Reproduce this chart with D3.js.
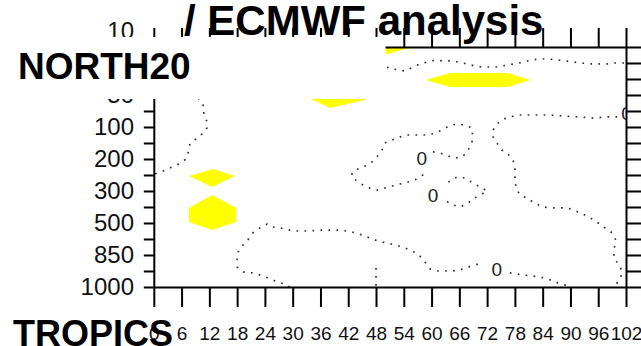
<!DOCTYPE html>
<html>
<head>
<meta charset="utf-8">
<script src="https://cdn.jsdelivr.net/npm/d3@7/dist/d3.min.js"></script>
<style>
  html, body { margin: 0; padding: 0; background: #fff; }
  svg { display: block; font-family: "Liberation Sans", Arial, sans-serif; }
</style>
</head>
<body>
<svg id="chart" width="641" height="346"></svg>
<script>
// ---------------- data ----------------
// x axis: forecast hour, y axis: model level index (0 = 1000 hPa)
const xTicks = [0, 6, 12, 18, 24, 30, 36, 42, 48, 54, 60, 66, 72, 78, 84, 90, 96, 102];
const yTickIdx = d3.range(0, 16);
const yLabelIdx = [0, 2, 4, 6, 8, 10, 12, 14, 16];
const yLabels = ["1000", "850", "500", "300", "200", "100", "50", "20", "10"];

// yellow shaded regions [hour, level index]
const shadeTop = [[48, 15], [55.8, 15], [50.6, 14.56], [49, 14.6]];
const shadeUpperRight = [[58.8, 12.94], [64.0, 13.38], [76.5, 13.38], [81.3, 12.94], [76.5, 12.5], [64.0, 12.5]];
const shadeUpperMid = [[32.7, 11.9], [46.7, 11.9], [45.6, 11.69], [38.1, 11.19], [34.4, 11.69]];
const shadeDiamond = [[7.6, 6.94], [12.8, 7.38], [17.5, 6.94], [12.6, 6.25]];
const shadeHexagon = [[12.6, 5.75], [7.6, 4.94], [7.6, 4.06], [12.6, 3.56], [17.8, 4.06], [17.8, 4.94]];

// zero contour (dotted) [hour, level index]
const zeroLeft = [[9.1, 12.3], [9.8, 11.69], [10.8, 11.31], [10.8, 10.88], [11.5, 10.31], [11.5, 9.94], [10.4, 9.56],
  [9.1, 9.25], [7.8, 8.94], [7.4, 8.38], [6.7, 7.94], [5.4, 7.69], [3.9, 7.5], [2.0, 7.25], [0.7, 7.13], [0, 7.0]];
const zeroTop = [[47, 13.5], [51.0, 13.75], [52.5, 13.56], [54.3, 13.5], [56.0, 13.75], [57.5, 13.94], [59.0, 14.06],
  [60.8, 14.19], [62.3, 14.13], [64.0, 14.13], [65.7, 14.06], [67.7, 13.94], [69.4, 13.81], [71.1, 13.75], [72.6, 13.75],
  [74.3, 13.75], [76.3, 13.88], [78.0, 13.94], [79.8, 14.06], [81.7, 14.19], [83.4, 14.25], [85.2, 14.25], [87.1, 14.19],
  [88.8, 14.13], [90.6, 14.06], [92.5, 14.0], [94.2, 13.94], [96.0, 13.94], [97.9, 13.94], [99.6, 14.0], [102, 14.0]];
const zeroRight = [[100.1, 10.63], [98.1, 10.63], [94.9, 10.56], [91.6, 10.63], [88.4, 10.69], [85.6, 10.75], [81.7, 10.75],
  [78.7, 10.75], [76.9, 10.63], [75.6, 10.5], [74.1, 10.19], [73.3, 9.81], [73.3, 9.38], [74.1, 9.0], [75.2, 8.56],
  [76.5, 8.31], [77.6, 7.94], [78.0, 7.5], [78.0, 7.0], [78.0, 6.56], [78.5, 6.06], [79.1, 5.75], [80.6, 5.56], [81.9, 5.31],
  [83.9, 5.0], [86.7, 4.94], [88.4, 4.94], [90.3, 4.88], [91.6, 4.69], [93.1, 4.5], [94.7, 4.25], [96.0, 4.0], [97.5, 3.69],
  [99.0, 3.38], [99.8, 2.94], [99.4, 2.31], [99.4, 1.81], [100.7, 1.31], [101.2, 0.88], [100.5, 0.38], [99.2, 0]];
const zeroMid = [[60.3, 8.44], [61.8, 8.38], [63.6, 8.19], [65.1, 8.06], [66.6, 8.13], [67.7, 8.44], [68.7, 9.0], [68.9, 9.38],
  [68.7, 9.94], [67.7, 10.06], [65.9, 10.19], [64.4, 10.13], [62.9, 9.94], [61.4, 9.69], [60.1, 9.56], [58.6, 9.5],
  [56.9, 9.5], [54.9, 9.5], [53.2, 9.38], [51.5, 9.19], [49.9, 9.0], [49.3, 8.56], [48.2, 8.13], [47.1, 7.81], [45.6, 7.56],
  [44.1, 7.38], [42.8, 7.13], [42.8, 6.88], [44.1, 6.56], [45.6, 6.31], [47.1, 6.13], [48.4, 6.06], [49.9, 6.19],
  [51.5, 6.31], [53.2, 6.44], [54.9, 6.56], [56.4, 6.69], [58.1, 7.0], [59.0, 7.31]];
const zeroSmall = [[63.6, 6.56], [65.5, 6.88], [67.2, 6.81], [68.9, 6.5], [70.5, 6.25], [72.0, 6.0], [70.5, 5.75],
  [68.9, 5.5], [67.7, 5.19], [66.1, 5.0], [64.6, 5.13], [63.1, 5.38]];
const zeroBottomA = [[29.4, 0], [28.3, 0.19], [26.8, 0.31], [25.1, 0.5], [23.6, 0.69], [21.4, 0.88], [19.3, 0.94],
  [18.0, 1.25], [18.0, 1.69], [18.2, 2.19], [19.3, 2.63], [20.3, 2.94], [21.4, 3.38], [22.9, 3.69], [24.5, 3.94],
  [25.7, 3.75], [27.3, 3.69], [30.1, 3.5], [33.1, 3.5], [36.5, 3.56], [40.2, 3.56], [42.8, 3.44], [45.0, 3.25],
  [46.7, 3.06], [48.4, 2.88], [50.4, 2.75], [52.1, 2.63], [53.8, 2.5], [55.8, 2.25], [57.1, 2.06], [58.6, 1.56],
  [59.7, 1.13], [61.4, 1.0], [64.4, 1.0], [66.1, 1.06], [67.9, 1.25], [69.4, 1.38], [70.9, 1.5]];
const zeroBottomB = [[76.9, 0.88], [78.5, 0.81], [79.8, 0.75], [81.7, 0.69], [83.4, 0.63], [85.2, 0.5], [86.7, 0.31],
  [88.2, 0.19], [89.9, 0]];
const zeroStub = [[48.0, 1.19], [48.0, 0]];

// contour labels [hour, level index, text]
const contourLabels = [[57.9, 8.06, "0"], [60.3, 5.75, "0"], [74.1, 1.13, "0"], [102.1, 10.88, "0"]];

const titleText = "/ ECMWF analysis";
const panelTop = "NORTH20";
const panelBottom = "TROPICS";

// ---------------- drawing ----------------
const svg = d3.select("#chart");
const x = d3.scaleLinear().domain([0, 102]).range([153.8, 626]);
const y = d3.scaleLinear().domain([0, 15]).range([287, 47]);

svg.append("defs").append("clipPath").attr("id", "plotclip")
  .append("rect").attr("x", x(0)).attr("y", y(15)).attr("width", x(102) - x(0)).attr("height", y(0) - y(15));

const plot = svg.append("g").attr("clip-path", "url(#plotclip)");
const line = d3.line().x(d => x(d[0])).y(d => y(d[1]));

[shadeTop, shadeUpperRight, shadeUpperMid, shadeDiamond, shadeHexagon].forEach(poly => {
  plot.append("path").attr("d", line(poly) + "Z").attr("fill", "#ffff00").attr("stroke", "none");
});

[zeroLeft, zeroTop, zeroRight, zeroMid, zeroSmall, zeroBottomA, zeroBottomB, zeroStub].forEach(c => {
  plot.append("path").attr("d", line(c)).attr("fill", "none")
    .attr("stroke", "#333").attr("stroke-width", 1.7).attr("stroke-dasharray", "1.7,6.3");
});

plot.selectAll("text.clab").data(contourLabels).join("text")
  .attr("class", "clab")
  .attr("x", d => x(d[0])).attr("y", d => y(d[1])).attr("dy", "0.35em")
  .attr("text-anchor", "middle").attr("font-size", 19).attr("fill", "#222")
  .text(d => d[2]);

// axes
function styleAxis(g) {
  g.selectAll("path.domain").attr("stroke", "#000").attr("stroke-width", 2);
  g.selectAll(".tick line").attr("stroke", "#000").attr("stroke-width", 2);
}
svg.append("g").attr("transform", `translate(0,${y(0)})`)
  .call(d3.axisBottom(x).tickValues(xTicks).tickSize(20).tickSizeOuter(0).tickPadding(20).tickFormat(d3.format("d")))
  .call(styleAxis)
  .call(g => g.selectAll("text").attr("font-size", 19).attr("fill", "#111")
    .attr("font-family", "Liberation Sans, Arial, sans-serif"));
svg.append("g").attr("transform", `translate(0,${y(15)})`)
  .call(d3.axisTop(x).tickValues(xTicks).tickSize(19).tickSizeOuter(0).tickFormat(""))
  .call(styleAxis);
svg.append("g").attr("transform", `translate(${x(0)},0)`)
  .call(d3.axisLeft(y).tickValues(yTickIdx).tickSize(10).tickSizeOuter(0).tickFormat(""))
  .call(styleAxis);
svg.append("g").attr("transform", `translate(${x(102)},0)`)
  .call(d3.axisRight(y).tickValues(yTickIdx).tickSize(16).tickSizeOuter(0).tickFormat(""))
  .call(styleAxis);

svg.selectAll("text.ylab").data(yLabelIdx).join("text")
  .attr("class", "ylab")
  .attr("x", 134).attr("y", d => y(d)).attr("dy", "0.35em")
  .attr("text-anchor", "end").attr("font-size", 24).attr("fill", "#111")
  .text((d, i) => yLabels[i]);

// panel label box
svg.append("rect").attr("x", 0).attr("y", 37).attr("width", 385.5).attr("height", 62).attr("fill", "#fff");
svg.append("text").attr("x", 18).attr("y", 79).attr("font-size", 37).attr("font-weight", "bold")
  .attr("fill", "#000").text(panelTop);
svg.append("text").attr("x", 184).attr("y", 35).attr("font-size", 42).attr("font-weight", "bold")
  .attr("fill", "#000").text(titleText);
svg.append("text").attr("x", 13).attr("y", 346).attr("font-size", 36).attr("font-weight", "bold")
  .attr("fill", "#000").text(panelBottom);
</script>
</body>
</html>
